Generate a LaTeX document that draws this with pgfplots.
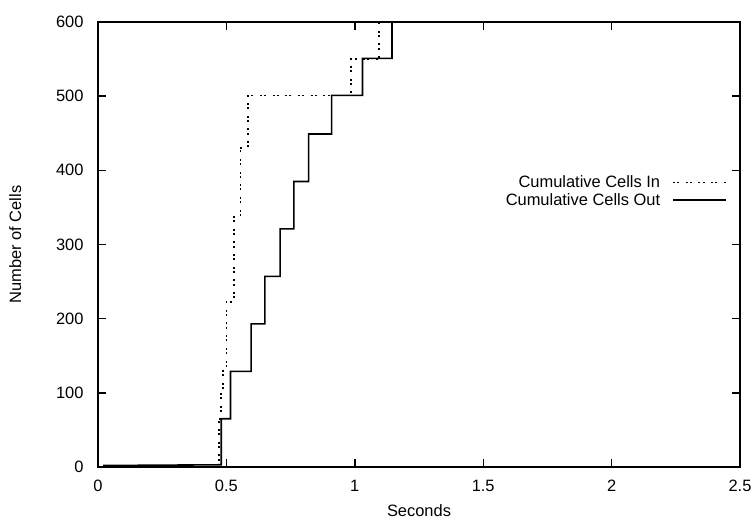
\documentclass[border=0pt]{standalone}
\usepackage{pgfplots}
\pgfplotsset{compat=1.18}
\usepackage{fontspec}
\setmainfont{Liberation Sans}
\begin{document}
\begin{tikzpicture}
\path[use as bounding box] (-98bp,-60bp) rectangle (658bp,467bp);
\begin{axis}[
  at={(0,0)}, anchor=south west,
  scale only axis,
  width=642bp, height=445bp,
  xmin=0, xmax=2.5, ymin=0, ymax=600,
  xtick={0,0.5,1,1.5,2,2.5},
  xticklabels={0,0.5,1,1.5,2,2.5},
  ytick={0,100,200,300,400,500,600},
  tick align=inside,
  major tick length=8bp,
  axis line style={line width=1.4bp},
  every tick/.style={line width=1.4bp, black},
  tick label style={font=\fontsize{16.5}{18}\selectfont},
  xticklabel style={yshift=-10bp},
  yticklabel style={xshift=-11bp},
  /pgf/number format/assume math mode=true,
  xlabel={Seconds},
  ylabel={Number of Cells},
  label style={font=\fontsize{16.5}{18}\selectfont},
  xlabel style={yshift=-6bp},
  ylabel style={yshift=28bp},
  legend cell align=right,
  legend plot pos=right,
  legend style={at={(0.98,0.664)}, anchor=north east, draw=none, fill=none,
    font=\fontsize{16.5}{18}\selectfont, row sep=0bp, column sep=10bp, inner xsep=0bp},
  legend image code/.code={\draw[#1] (0bp,0bp) -- (53bp,0bp);},
]
\addplot[black, line width=1.8bp, dash pattern=on 2bp off 2.2bp on 2bp off 6.5bp] coordinates {
(0.0,0) (0.47,0) (0.47,65) (0.478,65) (0.478,100) (0.488,100) (0.488,135)
(0.50,135) (0.50,222) (0.53,222) (0.53,340) (0.555,340) (0.555,430)
(0.585,430) (0.585,501) (0.985,501) (0.985,550) (1.095,550) (1.095,600)
};
\addlegendentry{Cumulative Cells In}
\addplot[black, line width=1.6bp] coordinates {
(0.02,2) (0.48,3) (0.48,65) (0.516,65) (0.516,129) (0.596,129) (0.596,193)
(0.650,193) (0.650,257) (0.709,257) (0.709,321) (0.763,321) (0.763,385)
(0.82,385) (0.82,449) (0.91,449) (0.91,501) (1.03,501) (1.03,551)
(1.145,551) (1.145,601)
};
\addlegendentry{Cumulative Cells Out}
\end{axis}
\end{tikzpicture}
\end{document}
